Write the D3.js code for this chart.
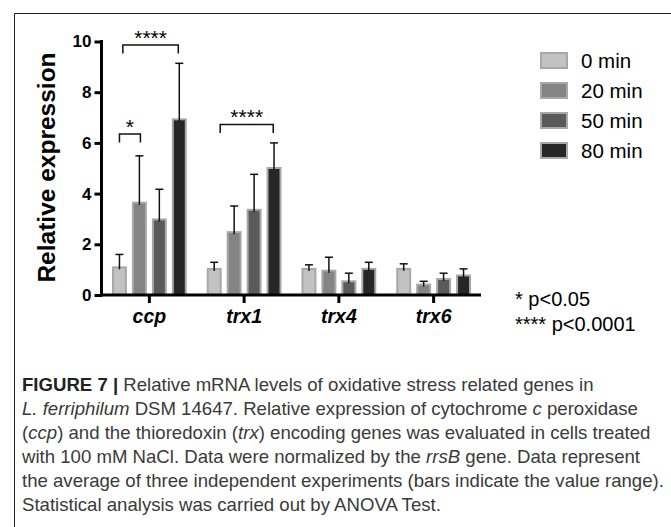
<!DOCTYPE html>
<html>
<head>
<meta charset="utf-8">
<script src="https://cdn.jsdelivr.net/npm/d3@7"></script>
<style>
  body { margin: 0; background: #fff; }
  svg { display: block; font-family: "Liberation Sans", Arial, sans-serif; }
</style>
</head>
<body>
<div id="chart"></div>
<script>
// categories and series
const genes = ["ccp", "trx1", "trx4", "trx6"];
const series = ["0 min", "20 min", "50 min", "80 min"];

// mean relative expression per series (one value per gene)
const min0 = [1.09, 1.03, 1.03, 1.03];
const min20 = [3.64, 2.48, 0.96, 0.41];
const min50 = [2.98, 3.36, 0.54, 0.63];
const min80 = [6.93, 5.01, 1.03, 0.77];

// top of the range bars
const min0Hi = [1.6, 1.29, 1.19, 1.23];
const min20Hi = [5.49, 3.51, 1.49, 0.54];
const min50Hi = [4.17, 4.76, 0.86, 0.86];
const min80Hi = [9.14, 6.0, 1.29, 1.03];

const yTicks = [0, 2, 4, 6, 8, 10];

// significance brackets (from/to in series index units)
const sigGene = ["ccp", "ccp", "trx1"];
const sigFrom = [0, 0.17, 0.3];
const sigTo = [1.05, 2.95, 2.96];
const sigY = [6.35, 9.86, 6.73];
const sigLabel = ["*", "****", "****"];

const colors = ["#c2c2c2", "#848484", "#5a5a5a", "#262626"];

const width = 671, height = 527;
const means = [min0, min20, min50, min80];
const highs = [min0Hi, min20Hi, min50Hi, min80Hi];

const svg = d3.select("#chart").append("svg")
	.attr("width", width).attr("height", height);

svg.append("rect").attr("width", width).attr("height", height).attr("fill", "#fff");

// frame (left and top edges visible)
svg.append("path")
	.attr("d", "M14.5,527V13.5H671")
	.attr("fill", "none").attr("stroke", "#222").attr("stroke-width", 1);

// scales
const x0 = d3.scaleBand(genes, [102, 481]).paddingInner(0.158).paddingOuter(0.079);
const x1 = d3.scaleBand(series, [0, x0.bandwidth()]).paddingInner(0.25).paddingOuter(0.125);
const y = d3.scaleLinear([0, 10], [295, 41.5]);

// bars
const rows = [];
genes.forEach((g, gi) => {
	series.forEach((s, si) => {
		rows.push({ gene: g, series: s, si: si, v: means[si][gi], hi: highs[si][gi] });
	});
});

const bars = svg.append("g");
bars.selectAll("rect")
	.data(rows)
	.join("rect")
	.attr("x", (d) => x0(d.gene) + x1(d.series) + 1)
	.attr("y", (d) => y(d.v))
	.attr("width", x1.bandwidth() - 2)
	.attr("height", (d) => y(0) - y(d.v))
	.attr("fill", (d) => colors[d.si])
	.attr("stroke", "#a8a8a8")
	.attr("stroke-width", 2);

// range bars (upper only)
const err = svg.append("g").attr("stroke", "#111").attr("stroke-width", 1.5);
rows.forEach((d) => {
	const cx = x0(d.gene) + x1(d.series) + x1.bandwidth() / 2;
	err.append("line")
		.attr("x1", cx).attr("x2", cx)
		.attr("y1", y(d.v) + 2).attr("y2", y(d.hi));
	err.append("line")
		.attr("x1", cx - 4).attr("x2", cx + 4)
		.attr("y1", y(d.hi)).attr("y2", y(d.hi));
});

// axes
const axisY = svg.append("g")
	.attr("transform", "translate(101.5,0)")
	.call(d3.axisLeft(y).tickValues(yTicks).tickSize(7).tickSizeOuter(0).tickPadding(3));
axisY.selectAll("path, line").attr("stroke", "#000").attr("stroke-width", 3);
axisY.select(".domain").attr("d", `M0,${y(0) + 1.5}V${y(10) - 1.5}`);
axisY.selectAll("text")
	.attr("fill", "#000")
	.style("font-size", "17px").style("font-weight", "bold");

const axisX = svg.append("g")
	.attr("transform", `translate(0,${y(0)})`)
	.call(d3.axisBottom(x0).tickSize(8).tickSizeOuter(0));
axisX.selectAll("path, line").attr("stroke", "#000").attr("stroke-width", 3);
axisX.select(".domain").attr("d", "M100,0H481");
axisX.selectAll("text")
	.attr("y", 28).attr("dy", null)
	.attr("fill", "#000")
	.style("font-size", "19.5px").style("font-weight", "bold").style("font-style", "italic");

// y label
svg.append("text")
	.attr("transform", "translate(54.5,167.5) rotate(-90)")
	.attr("text-anchor", "middle")
	.style("font-size", "24.5px").style("font-weight", "bold")
	.text("Relative expression");

// significance brackets
const sig = svg.append("g");
sigGene.forEach((g, i) => {
	const base = x0(g) + x1(series[0]) + x1.bandwidth() / 2;
	const xa = base + sigFrom[i] * x1.step();
	const xb = base + sigTo[i] * x1.step();
	const yy = y(sigY[i]);
	sig.append("path")
		.attr("d", `M${xa},${yy + 8.5}V${yy}H${xb}V${yy + 8.5}`)
		.attr("fill", "none").attr("stroke", "#111").attr("stroke-width", 1.5);
	sig.append("text")
		.attr("x", (xa + xb) / 2).attr("y", yy)
		.attr("text-anchor", "middle")
		.style("font-size", "21px")
		.text(sigLabel[i]);
});

// legend
const legend = svg.append("g").attr("transform", "translate(540,52)");
series.forEach((s, i) => {
	const row = legend.append("g").attr("transform", `translate(0,${i * 30})`);
	row.append("rect")
		.attr("x", 1).attr("y", 1).attr("width", 26).attr("height", 15)
		.attr("fill", colors[i]).attr("stroke", "#a8a8a8").attr("stroke-width", 2);
	row.append("text")
		.attr("x", 41).attr("y", 15.5)
		.style("font-size", "20.5px")
		.text(s);
});

// p-value note
const note = svg.append("g").style("font-size", "20px");
note.append("text").attr("x", 515).attr("y", 305.5).text("* p<0.05");
note.append("text").attr("x", 515).attr("y", 330.5).text("**** p<0.0001");

// caption
const cap = svg.append("g")
	.attr("fill", "#3a3a3a")
	.style("font-size", "18.6px");
const capLines = [
	[["FIGURE 7 |", "b"], [" Relative mRNA levels of oxidative stress related genes in", ""]],
	[["L. ferriphilum", "i"], [" DSM 14647. Relative expression of cytochrome ", ""], ["c", "i"], [" peroxidase", ""]],
	[["(", ""], ["ccp", "i"], [") and the thioredoxin (", ""], ["trx", "i"], [") encoding genes was evaluated in cells treated", ""]],
	[["with 100 mM NaCl. Data were normalized by the ", ""], ["rrsB", "i"], [" gene. Data represent", ""]],
	[["the average of three independent experiments (bars indicate the value range).", ""]],
	[["Statistical analysis was carried out by ANOVA Test.", ""]]
];
capLines.forEach((parts, i) => {
	const t = cap.append("text").attr("x", 22).attr("y", 391 + i * 24);
	parts.forEach(([txt, st]) => {
		const sp = t.append("tspan").text(txt);
		if (st === "i") sp.style("font-style", "italic");
		if (st === "b") sp.style("font-weight", "bold").attr("fill", "#222");
	});
});
</script>
</body>
</html>
